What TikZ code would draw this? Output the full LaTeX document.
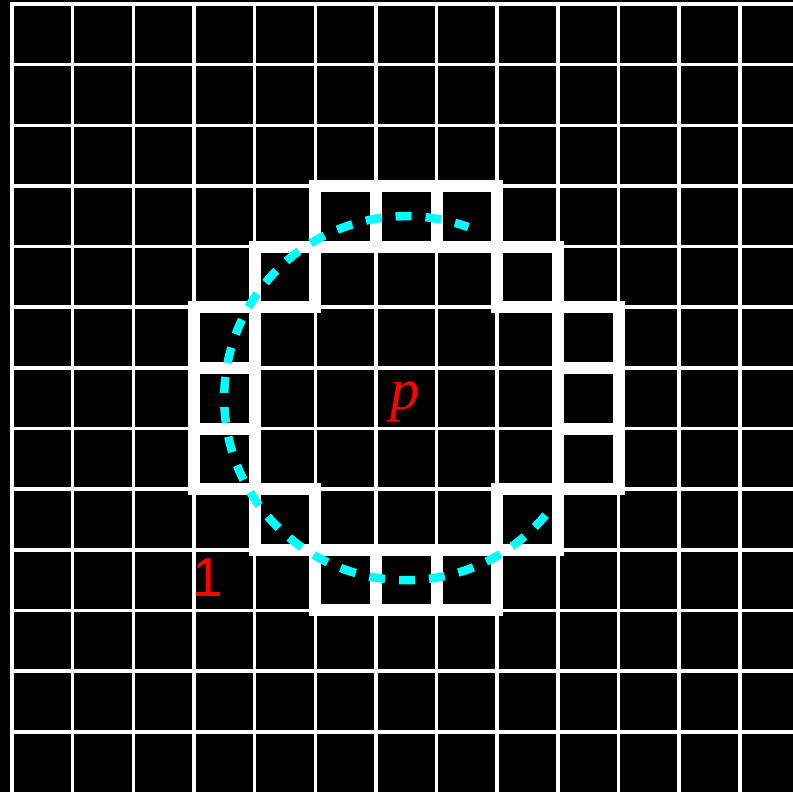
\documentclass[tikz,border=0pt]{standalone}
\usepackage{fontspec}
\newfontfamily\serifit{Liberation Serif}
\newfontfamily\sansf{Liberation Sans}
\definecolor{aquacol}{RGB}{0,255,255}
\definecolor{redcol}{RGB}{255,0,0}
\begin{document}
\begin{tikzpicture}[x=1pt,y=1pt,
  gridline/.style={white,line width=3.5pt,line cap=rect},
  pixbox/.style={white,line width=12pt,line join=miter},
  arcline/.style={aquacol,line width=8.5pt,dash pattern=on 16pt off 14pt},
  lbl/.style={redcol,anchor=base,inner sep=0pt}]
\fill[black] (0,0) rectangle (793,792);
\useasboundingbox (0,0) rectangle (793,792);
\begin{scope}
\clip (0,0) rectangle (793,792);
\foreach \i in {0,...,13} \draw[gridline] ({12+60.65*\i},0) -- ({12+60.65*\i},788);
\foreach \j in {0,...,12} \draw[gridline] (12,{788-60.65*\j}) -- (800,{788-60.65*\j});
\foreach \c/\r in {5/3,6/3,7/3,4/4,8/4,3/5,9/5,3/6,9/6,3/7,9/7,4/8,8/8,5/9,6/9,7/9}
  \draw[pixbox] ({12+60.65*\c},{788-60.65*(\r+1)}) rectangle ({12+60.65*(\c+1)},{788-60.65*\r});
\coordinate (c) at (406.2,393.8);
\draw[arcline] (c) ++(-40:182) arc[start angle=-40,end angle=-290,radius=182];
\end{scope}
\node[lbl,font=\serifit\itshape\fontsize{59}{61}\selectfont] (p) at (405,382) {p};
\node[lbl,font=\sansf\fontsize{55}{57}\selectfont] (one) at (208,195) {1};
\end{tikzpicture}
\end{document}
